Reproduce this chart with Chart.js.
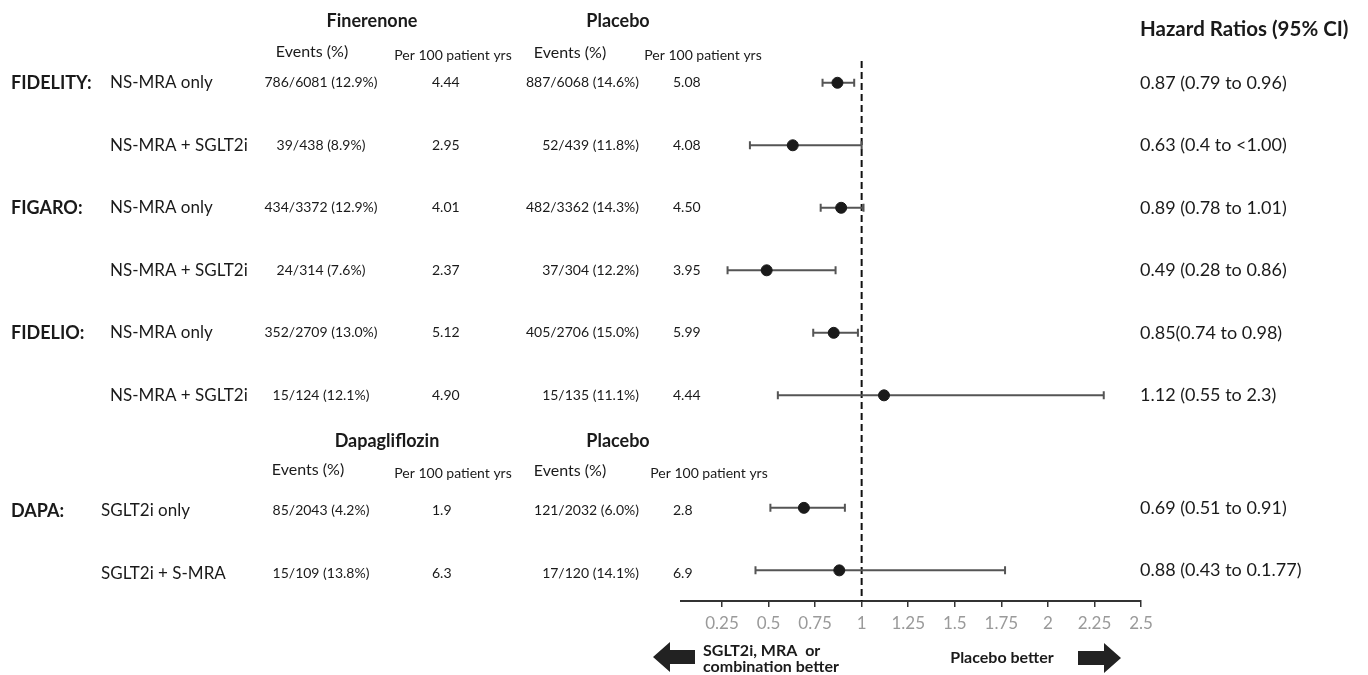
<!DOCTYPE html>
<html>
<head>
<meta charset="utf-8">
<script src="https://cdn.jsdelivr.net/npm/chart.js@4.4.1/dist/chart.umd.min.js"></script>
<style>
  html, body { margin: 0; padding: 0; background: #fff; }
  #wrap { width: 1368px; height: 675px; position: relative; }
</style>
</head>
<body>
<div id="wrap"><canvas id="grafico"></canvas></div>
<script>
// Datos de la figura
const trialNames = ['FIDELITY:', '', 'FIGARO:', '', 'FIDELIO:', '', 'DAPA:', ''];
const subgroups = ['NS-MRA only', 'NS-MRA + SGLT2i', 'NS-MRA only', 'NS-MRA + SGLT2i', 'NS-MRA only', 'NS-MRA + SGLT2i', 'SGLT2i only', 'SGLT2i + S-MRA'];
const rowGroup = [0, 0, 0, 0, 0, 0, 1, 1];
const activeEvents = ['786/6081 (12.9%)', '39/438 (8.9%)', '434/3372 (12.9%)', '24/314 (7.6%)', '352/2709 (13.0%)', '15/124 (12.1%)', '85/2043 (4.2%)', '15/109 (13.8%)'];
const activeRate = ['4.44', '2.95', '4.01', '2.37', '5.12', '4.90', '1.9', '6.3'];
const placeboEvents = ['887/6068 (14.6%)', '52/439 (11.8%)', '482/3362 (14.3%)', '37/304 (12.2%)', '405/2706 (15.0%)', '15/135 (11.1%)', '121/2032 (6.0%)', '17/120 (14.1%)'];
const placeboRate = ['5.08', '4.08', '4.50', '3.95', '5.99', '4.44', '2.8', '6.9'];
const hazardRatio = [0.87, 0.63, 0.89, 0.49, 0.85, 1.12, 0.69, 0.88];
const ciLow = [0.79, 0.40, 0.78, 0.28, 0.74, 0.55, 0.51, 0.43];
const ciHigh = [0.96, 1.00, 1.01, 0.86, 0.98, 2.30, 0.91, 1.77];
const hrLabels = ['0.87 (0.79 to 0.96)', '0.63 (0.4 to <1.00)', '0.89 (0.78 to 1.01)', '0.49 (0.28 to 0.86)', '0.85(0.74 to 0.98)', '1.12 (0.55 to 2.3)', '0.69 (0.51 to 0.91)', '0.88 (0.43 to 0.1.77)'];
const groupDrugs = ['Finerenone', 'Dapagliflozin'];
const xTicks = [0.25, 0.5, 0.75, 1, 1.25, 1.5, 1.75, 2, 2.25, 2.5];

// Disposición
const FONT = 'Lato, "Open Sans", sans-serif';
const TEXT = '#1a1a1a';
const groupGap = 0.8;
const col = { trial: 11, sub: 110, subDapa: 101, actEv: 321, actRate: 432, plEv: 639, plRate: 673, hr: 1140 };
const headerY = [{ title: 21, sub: 52 }, { title: 441, sub: 470 }];

function rowPos(i) {
  return i + rowGroup[i] * groupGap;
}

function setFont(ctx, size, bold) {
  ctx.font = (bold ? 'bold ' : '') + size + 'px ' + FONT;
}

function text(ctx, str, x, y, align) {
  ctx.textAlign = align || 'left';
  ctx.fillText(str, x, y);
}

// Intervalos de confianza y línea de referencia
const forestLines = {
  id: 'forestLines',
  beforeDatasetsDraw(chart) {
    const { ctx, scales: { x, y }, chartArea } = chart;
    ctx.save();
    // línea punteada en HR = 1
    ctx.strokeStyle = '#111';
    ctx.lineWidth = 2;
    ctx.setLineDash([7, 4]);
    ctx.beginPath();
    ctx.moveTo(x.getPixelForValue(1), y.getPixelForValue(-0.35));
    ctx.lineTo(x.getPixelForValue(1), chartArea.bottom);
    ctx.stroke();
    ctx.setLineDash([]);

    ctx.strokeStyle = '#555';
    ctx.lineWidth = 2;
    hazardRatio.forEach((_, i) => {
      const py = y.getPixelForValue(rowPos(i));
      const x1 = x.getPixelForValue(ciLow[i]);
      const x2 = x.getPixelForValue(ciHigh[i]);
      ctx.beginPath();
      ctx.moveTo(x1, py);
      ctx.lineTo(x2, py);
      ctx.moveTo(x1, py - 4);
      ctx.lineTo(x1, py + 4);
      ctx.moveTo(x2, py - 4);
      ctx.lineTo(x2, py + 4);
      ctx.stroke();
    });
    ctx.restore();
  }
};

// Textos de la tabla, flechas y leyendas
const forestText = {
  id: 'forestText',
  afterDraw(chart) {
    const { ctx, scales: { y } } = chart;
    ctx.save();
    ctx.fillStyle = TEXT;
    ctx.textBaseline = 'middle';

    // cabeceras
    headerY.forEach((h, g) => {
      setFont(ctx, 18, true);
      text(ctx, groupDrugs[g], g === 0 ? 372 : 387, h.title, 'center');
      text(ctx, 'Placebo', 618, h.title, 'center');
      setFont(ctx, 16, false);
      text(ctx, 'Events (%)', g === 0 ? 312 : 308, h.sub, 'center');
      text(ctx, 'Events (%)', 570, h.sub + 1, 'center');
      setFont(ctx, 14, false);
      text(ctx, 'Per 100 patient yrs', 453, h.sub + 3, 'center');
      text(ctx, 'Per 100 patient yrs', g === 0 ? 703 : 709, h.sub + 3, 'center');
    });
    setFont(ctx, 20.5, true);
    text(ctx, 'Hazard Ratios (95% CI)', col.hr, 29);

    // filas
    hazardRatio.forEach((_, i) => {
      const py = y.getPixelForValue(rowPos(i)) + rowGroup[i] * 3;
      if (trialNames[i]) {
        setFont(ctx, 18, true);
        text(ctx, trialNames[i], col.trial, py);
      }
      setFont(ctx, 17, false);
      text(ctx, subgroups[i], rowGroup[i] ? col.subDapa : col.sub, py);
      setFont(ctx, 14, false);
      text(ctx, activeEvents[i], col.actEv, py, 'center');
      text(ctx, activeRate[i], col.actRate, py);
      text(ctx, placeboEvents[i], col.plEv, py, 'right');
      text(ctx, placeboRate[i], col.plRate, py);
      setFont(ctx, 18, false);
      text(ctx, hrLabels[i], col.hr, y.getPixelForValue(rowPos(i)));
    });

    // flechas
    ctx.fillStyle = '#222';
    ctx.beginPath();
    ctx.moveTo(653, 657);
    ctx.lineTo(670, 642);
    ctx.lineTo(670, 650);
    ctx.lineTo(695, 650);
    ctx.lineTo(695, 664);
    ctx.lineTo(670, 664);
    ctx.lineTo(670, 672);
    ctx.closePath();
    ctx.fill();

    ctx.beginPath();
    ctx.moveTo(1121, 658);
    ctx.lineTo(1104, 643);
    ctx.lineTo(1104, 651);
    ctx.lineTo(1078, 651);
    ctx.lineTo(1078, 665);
    ctx.lineTo(1104, 665);
    ctx.lineTo(1104, 673);
    ctx.closePath();
    ctx.fill();

    ctx.fillStyle = TEXT;
    setFont(ctx, 16, true);
    text(ctx, 'SGLT2i, MRA  or', 703, 651);
    text(ctx, 'combination better', 703, 667);
    text(ctx, 'Placebo better', 1002, 658, 'center');
    ctx.restore();
  }
};

const chart = new Chart(document.getElementById('grafico'), {
  type: 'scatter',
  data: {
    datasets: [{
      data: hazardRatio.map((v, i) => ({ x: v, y: rowPos(i) })),
      backgroundColor: '#1a1a1a',
      borderColor: '#1a1a1a',
      pointRadius: 5.5,
      pointHoverRadius: 5.5
    }]
  },
  options: {
    responsive: true,
    maintainAspectRatio: false,
    animation: false,
    layout: { padding: { left: 681, right: 227, top: 0, bottom: 0 } },
    plugins: { legend: { display: false }, tooltip: { enabled: false } },
    scales: {
      x: {
        type: 'linear',
        min: 0.03,
        max: 2.5,
        afterBuildTicks: s => { s.ticks = xTicks.map(v => ({ value: v })); },
        afterFit: s => { s.height = 74; },
        ticks: {
          color: '#9a9a9a',
          font: { family: FONT, size: 17 },
          padding: 6,
          autoSkip: false,
          maxRotation: 0,
          callback: v => String(v)
        },
        grid: { drawOnChartArea: false, drawTicks: true, tickLength: 6, color: '#333', lineWidth: 1.5 },
        border: { display: true, color: '#333', width: 2 }
      },
      y: {
        type: 'linear',
        display: false,
        reverse: true,
        min: -1.22,
        max: 8.29
      }
    }
  },
  plugins: [forestLines, forestText]
});
</script>
</body>
</html>
